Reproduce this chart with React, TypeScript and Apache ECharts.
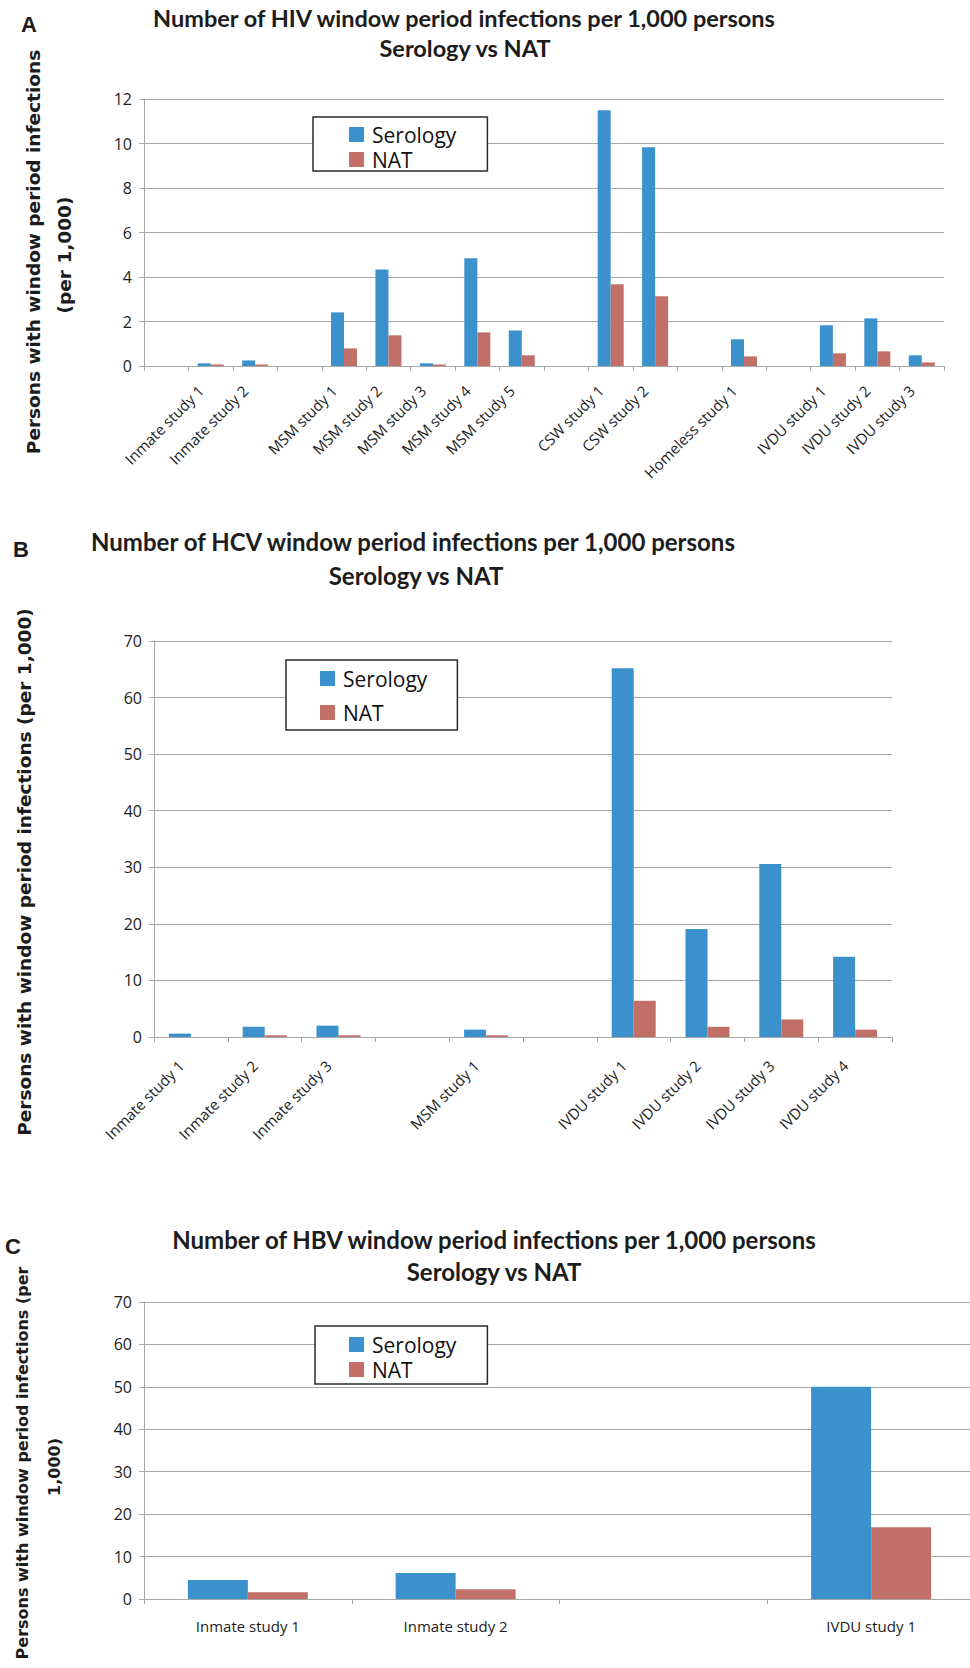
import { useEffect, useRef } from "react";
import * as echarts from "echarts";

const seriesNames = ["Serology", "NAT"];

// Panel A – HIV
const hivCategories = ["", "Inmate study 1", "Inmate study 2", "", "MSM study 1", "MSM study 2", "MSM study 3", "MSM study 4", "MSM study 5", "", "CSW study 1", "CSW study 2", "", "Homeless study 1", "", "IVDU study 1", "IVDU study 2", "IVDU study 3"];
const hivSerology = [null, 0.12, 0.25, null, 2.41, 4.34, 0.12, 4.84, 1.6, null, 11.49, 9.83, null, 1.2, null, 1.83, 2.14, 0.48];
const hivNat = [null, 0.07, 0.07, null, 0.79, 1.38, 0.07, 1.51, 0.48, null, 3.67, 3.13, null, 0.43, null, 0.57, 0.66, 0.16];
const hivTitle = ["Number of HIV window period infections per 1,000 persons", "Serology vs NAT"];
const hivYLabel = ["Persons with window period infections", "(per 1,000)"];

// Panel B – HCV
const hcvCategories = ["Inmate study 1", "Inmate study 2", "Inmate study 3", "", "MSM study 1", "", "IVDU study 1", "IVDU study 2", "IVDU study 3", "IVDU study 4"];
const hcvSerology = [0.6, 1.8, 2.0, null, 1.3, null, 65.2, 19.1, 30.6, 14.2];
const hcvNat = [0, 0.3, 0.3, null, 0.3, null, 6.4, 1.8, 3.1, 1.3];
const hcvTitle = ["Number of HCV window period infections per 1,000 persons", "Serology vs NAT"];
const hcvYLabel = ["Persons with window period infections (per 1,000)"];

// Panel C – HBV
const hbvCategories = ["Inmate study 1", "Inmate study 2", "", "IVDU study 1"];
const hbvSerology = [4.5, 6.1, null, 50];
const hbvNat = [1.6, 2.3, null, 16.9];
const hbvTitle = ["Number of HBV window period infections per 1,000 persons", "Serology vs NAT"];
const hbvYLabel = ["Persons with window period infections (per", "1,000)"];

const panelLetters = ["A", "B", "C"];
const yMax = [12, 70, 70];
const yStep = [2, 10, 10];

const BLUE = "#3A91CC";
const RED = "#C26F68";
const GRID = "#a8a8a8";
const TEXT = "#1c1c1c";

export default function App() {
  const ref = useRef<HTMLDivElement>(null);

  useEffect(() => {
    if (!ref.current) return;
    const chart = echarts.init(ref.current, null, { renderer: "svg" });

    const grids = [
      { left: 144, top: 99, width: 800, height: 267 },
      { left: 154, top: 641, width: 738, height: 396 },
      { left: 144, top: 1302, width: 831, height: 297 },
    ];
    const cats = [hivCategories, hcvCategories, hbvCategories];
    const ser = [hivSerology, hcvSerology, hbvSerology];
    const nat = [hivNat, hcvNat, hbvNat];
    const barW = [13, 22, 60];
    const labelCfg = [
      { rotate: 45, margin: 12, padding: [0, 14, 0, 0] },
      { rotate: 45, margin: 16, padding: [0, 14, 0, 0] },
      { rotate: 0, margin: 19, padding: 0 },
    ];

    const xAxis = grids.map((_, i) => ({
      type: "category",
      gridIndex: i,
      data: cats[i],
      axisLine: { show: true, lineStyle: { color: GRID, width: 1 } },
      axisTick: { show: true, length: 5, interval: 0, lineStyle: { color: GRID } },
      axisLabel: {
        interval: 0,
        hideOverlap: false,
        rotate: labelCfg[i].rotate,
        margin: labelCfg[i].margin,
        padding: labelCfg[i].padding,
        fontFamily: "Open Sans",
        fontSize: 15,
        color: TEXT,
      },
      splitLine: { show: false },
    }));

    const yAxis = grids.map((_, i) => ({
      type: "value",
      gridIndex: i,
      min: 0,
      max: yMax[i],
      interval: yStep[i],
      axisLine: { show: true, lineStyle: { color: GRID, width: 1 } },
      axisTick: { show: true, length: 5, lineStyle: { color: GRID } },
      axisLabel: { fontFamily: "Open Sans", fontSize: 16, color: TEXT, margin: 12 },
      splitLine: { show: true, lineStyle: { color: GRID, width: 1.2 } },
    }));

    const series: any[] = [];
    grids.forEach((_, i) => {
      series.push({
        type: "bar",
        name: seriesNames[0],
        xAxisIndex: i,
        yAxisIndex: i,
        data: ser[i],
        barWidth: barW[i],
        barGap: "0%",
        itemStyle: { color: BLUE },
        silent: true,
      });
      series.push({
        type: "bar",
        name: seriesNames[1],
        xAxisIndex: i,
        yAxisIndex: i,
        data: nat[i],
        barWidth: barW[i],
        barGap: "0%",
        itemStyle: { color: RED },
        silent: true,
      });
    });

    const legendPos = [
      { left: 313, top: 117, itemGap: 4, padding: [7, 31, 1, 36] },
      { left: 286, top: 660, itemGap: 13, padding: [8, 30, 7, 34] },
      { left: 315, top: 1326, itemGap: 4, padding: [8, 31, 4, 34] },
    ];
    const legend = legendPos.map((p) => ({
      data: seriesNames,
      orient: "vertical",
      left: p.left,
      top: p.top,
      itemGap: p.itemGap,
      padding: p.padding,
      itemWidth: 15,
      itemHeight: 15,
      icon: "rect",
      selectedMode: false,
      backgroundColor: "#ffffff",
      borderColor: "#2b2b2b",
      borderWidth: 1.5,
      z: 10,
      textStyle: { fontFamily: "Open Sans", fontSize: 21, color: "#111", padding: [0, 0, 0, 3] },
    }));

    const titleFont = (size: number) => `bold ${size}px Lato`;
    const titles = [
      { lines: hivTitle, x: [464, 465], y: [18, 48], size: 23.5 },
      { lines: hcvTitle, x: [413, 416], y: [541, 575], size: 24 },
      { lines: hbvTitle, x: [494, 494], y: [1239, 1271], size: 24 },
    ];
    const graphic: any[] = [];
    titles.forEach((t) => {
      t.lines.forEach((line, j) => {
        graphic.push({
          type: "text",
          x: t.x[j],
          y: t.y[j],
          style: { text: line, font: titleFont(t.size), fill: TEXT, textAlign: "center", textVerticalAlign: "middle" },
        });
      });
    });

    const letterPos = [
      [29, 24],
      [21, 549],
      [13, 1246],
    ];
    panelLetters.forEach((l, i) => {
      graphic.push({
        type: "text",
        x: letterPos[i][0],
        y: letterPos[i][1],
        style: { text: l, font: "bold 22px 'Liberation Sans'", fill: TEXT, textAlign: "center", textVerticalAlign: "middle" },
      });
    });

    const yLabels = [
      { lines: hivYLabel, pos: [[33, 252], [64, 255]], size: 18.5 },
      { lines: hcvYLabel, pos: [[24, 872]], size: 18.5 },
      { lines: hbvYLabel, pos: [[22, 1463], [54, 1467]], size: 16 },
    ];
    yLabels.forEach((yl) => {
      yl.lines.forEach((line, j) => {
        graphic.push({
          type: "text",
          x: yl.pos[j][0],
          y: yl.pos[j][1],
          rotation: Math.PI / 2,
          style: {
            text: line,
            font: `bold ${yl.size}px 'DejaVu Sans'`,
            fill: TEXT,
            textAlign: "center",
            textVerticalAlign: "middle",
          },
        });
      });
    });

    chart.setOption({
      animation: false,
      backgroundColor: "#ffffff",
      grid: grids.map((g) => ({ ...g, containLabel: false, outerBoundsMode: "none" })),
      xAxis,
      yAxis,
      legend,
      series,
      graphic,
    } as any);

    return () => chart.dispose();
  }, []);

  return (
    <div
      ref={ref}
      style={{ position: "absolute", left: 0, top: 0, width: 970, height: 1668 }}
    />
  );
}
